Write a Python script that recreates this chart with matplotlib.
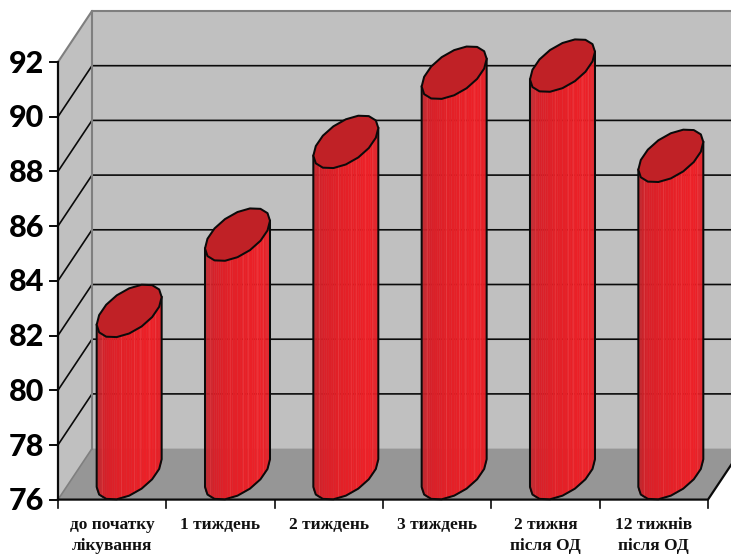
import numpy as np
import matplotlib
matplotlib.use("Agg")
import matplotlib.pyplot as plt
from matplotlib.patches import Polygon
from matplotlib.colors import to_rgb

# Chart content
categories = ["до початку\nлікування", "1 тиждень", "2 тиждень", "3 тиждень",
              "2 тижня\nпісля ОД", "12 тижнів\nпісля ОД"]
values = [81.93, 84.72, 88.11, 90.64, 90.9, 87.6]
y_ticks = [76, 78, 80, 82, 84, 86, 88, 90, 92]

# Scale of the front plane, in pixels per data unit
W, H = 731, 557
X0, Y0 = 58.0, 499.6
PX_PER_CAT = 108.33
PX_PER_VAL = 27.35
DEPTH_DX = 34.0 / PX_PER_CAT
DEPTH_DY = 51.0 / PX_PER_VAL
CAP_DY = 53.0 / PX_PER_VAL
RADIUS = 27.7 / PX_PER_CAT
YMIN, YMAX = y_ticks[0], y_ticks[-1]
N_CATS = len(categories)

fig = plt.figure(figsize=(W / 100, H / 100), dpi=100, facecolor="white")
ax = fig.add_axes([0, 0, 1, 1])
ax.set_xlim(-X0 / PX_PER_CAT, (W - X0) / PX_PER_CAT)
ax.set_ylim(YMIN - (H - Y0) / PX_PER_VAL, YMIN + Y0 / PX_PER_VAL)
ax.axis("off")

GREY_EDGE = "#7f7f7f"
BLACK = "#0a0a0a"
# Walls and floor of the 3-D box
ax.add_patch(Polygon([(DEPTH_DX, YMIN + DEPTH_DY), (DEPTH_DX, YMAX + DEPTH_DY),
                      (N_CATS + DEPTH_DX, YMAX + DEPTH_DY), (N_CATS + DEPTH_DX, YMIN + DEPTH_DY)],
                     fc="#c0c0c0", ec="none", zorder=1))
ax.add_patch(Polygon([(0, YMIN), (0, YMAX), (DEPTH_DX, YMAX + DEPTH_DY), (DEPTH_DX, YMIN + DEPTH_DY)],
                     fc="#c0c0c0", ec="none", zorder=1))
ax.add_patch(Polygon([(0, YMIN), (DEPTH_DX, YMIN + DEPTH_DY),
                      (N_CATS + DEPTH_DX, YMIN + DEPTH_DY), (N_CATS, YMIN)],
                     fc="#969696", ec="none", zorder=1))

# Gridlines over both walls
for v in y_ticks[1:-1]:
    ax.plot([0, DEPTH_DX, N_CATS + DEPTH_DX], [v, v + DEPTH_DY, v + DEPTH_DY],
            color=BLACK, lw=1.2, zorder=2, solid_joinstyle="miter")

# Box edges
ax.plot([0, DEPTH_DX, N_CATS + DEPTH_DX], [YMAX, YMAX + DEPTH_DY, YMAX + DEPTH_DY],
        color=GREY_EDGE, lw=1.5, zorder=2)
ax.plot([DEPTH_DX, DEPTH_DX], [YMIN + DEPTH_DY, YMAX + DEPTH_DY], color=GREY_EDGE, lw=1.5, zorder=2)
ax.plot([0, DEPTH_DX], [YMIN, YMIN + DEPTH_DY], color=GREY_EDGE, lw=1.2, zorder=2)
ax.plot([0, 0], [YMIN, YMAX], color=BLACK, lw=1.6, zorder=3)
ax.plot([0, N_CATS, N_CATS + DEPTH_DX], [YMIN, YMIN, YMIN + DEPTH_DY], color=BLACK, lw=1.6, zorder=3)

# Ticks
TICK_X = 8 / PX_PER_CAT
TICK_Y = 8 / PX_PER_VAL
for v in y_ticks:
    ax.plot([-TICK_X, 0], [v, v], color=BLACK, lw=1.4, zorder=3)
    ax.text(-14 / PX_PER_CAT, v + 0.03, str(v), ha="right", va="center_baseline", family="Lato",
            weight="black", fontsize=22, color="black")
for i in range(N_CATS + 1):
    ax.plot([i, i], [YMIN, YMIN - TICK_Y], color=BLACK, lw=1.2, zorder=3)

# Category labels under the floor
for i, label in enumerate(categories):
    ax.text(i + 0.5, YMIN - 17.5 / PX_PER_VAL, label, ha="center", va="top", family="Liberation Serif",
            weight="bold", fontsize=12.5, color="#111111", linespacing=1.42)


def ring(center, angles):
    """Points of the sheared circle that forms a cylinder section."""
    return (center + RADIUS * np.cos(angles) + DEPTH_DX / 2 * np.sin(angles),
            CAP_DY / 2 * (1 + np.sin(angles)))


# Horizontal colour ramp across a cylinder body
ramp_pos = [0.0, 0.05, 0.15, 0.4, 0.85, 1.0]
ramp_col = ["#b82a30", "#c8242b", "#d82029", "#e22027", "#ee2027", "#e22027"]
stripe_pos = [0.08, 0.38, 0.58, 0.66, 0.8, 0.9]


def shade(frac):
    rgb = np.array([to_rgb(c) for c in ramp_col])
    return tuple(np.interp(frac, ramp_pos, rgb[:, j]) for j in range(3))


# Cylinders: shaded body, thin highlights, outline and darker top cap
tangent = np.arctan2(DEPTH_DX / 2, RADIUS)
n_facets = 40
for i, value in enumerate(values):
    center = i + 0.5 + DEPTH_DX / 2
    front_t = np.linspace(tangent + np.pi, tangent + 2 * np.pi, n_facets + 1)
    fx, fy = ring(center, front_t)
    x_left, x_right = fx[0], fx[-1]
    for k in range(n_facets):
        frac = (0.5 * (fx[k] + fx[k + 1]) - x_left) / (x_right - x_left)
        quad = [(fx[k], YMIN + fy[k]), (fx[k + 1], YMIN + fy[k + 1]),
                (fx[k + 1], value + fy[k + 1]), (fx[k], value + fy[k])]
        col = shade(frac)
        ax.add_patch(Polygon(quad, fc=col, ec=col, lw=0.3, zorder=4))
    for s in stripe_pos:
        sx = x_left + s * (x_right - x_left)
        sy = np.interp(sx, fx, fy)
        ax.plot([sx, sx], [YMIN + sy, value + sy], color="#f4585c", lw=0.5, alpha=0.45, zorder=4.5)
    # silhouette of the body
    ox, oy = ring(center, np.linspace(tangent + np.pi, tangent + 2 * np.pi, 9))
    ax.plot(np.r_[ox[0], ox, ox[-1]],
            np.r_[value + oy[0], YMIN + oy, value + oy[-1]],
            color=BLACK, lw=1.45, zorder=5, solid_joinstyle="round")
    # top cap
    cx, cy = ring(center, np.linspace(0, 2 * np.pi, 17)[:-1] + tangent)
    ax.add_patch(Polygon(np.c_[cx, value + cy], closed=True, fc="#c02126", ec=BLACK, lw=1.45,
                         zorder=6, joinstyle="round"))

fig.savefig("out.png", dpi=100, facecolor="white")
